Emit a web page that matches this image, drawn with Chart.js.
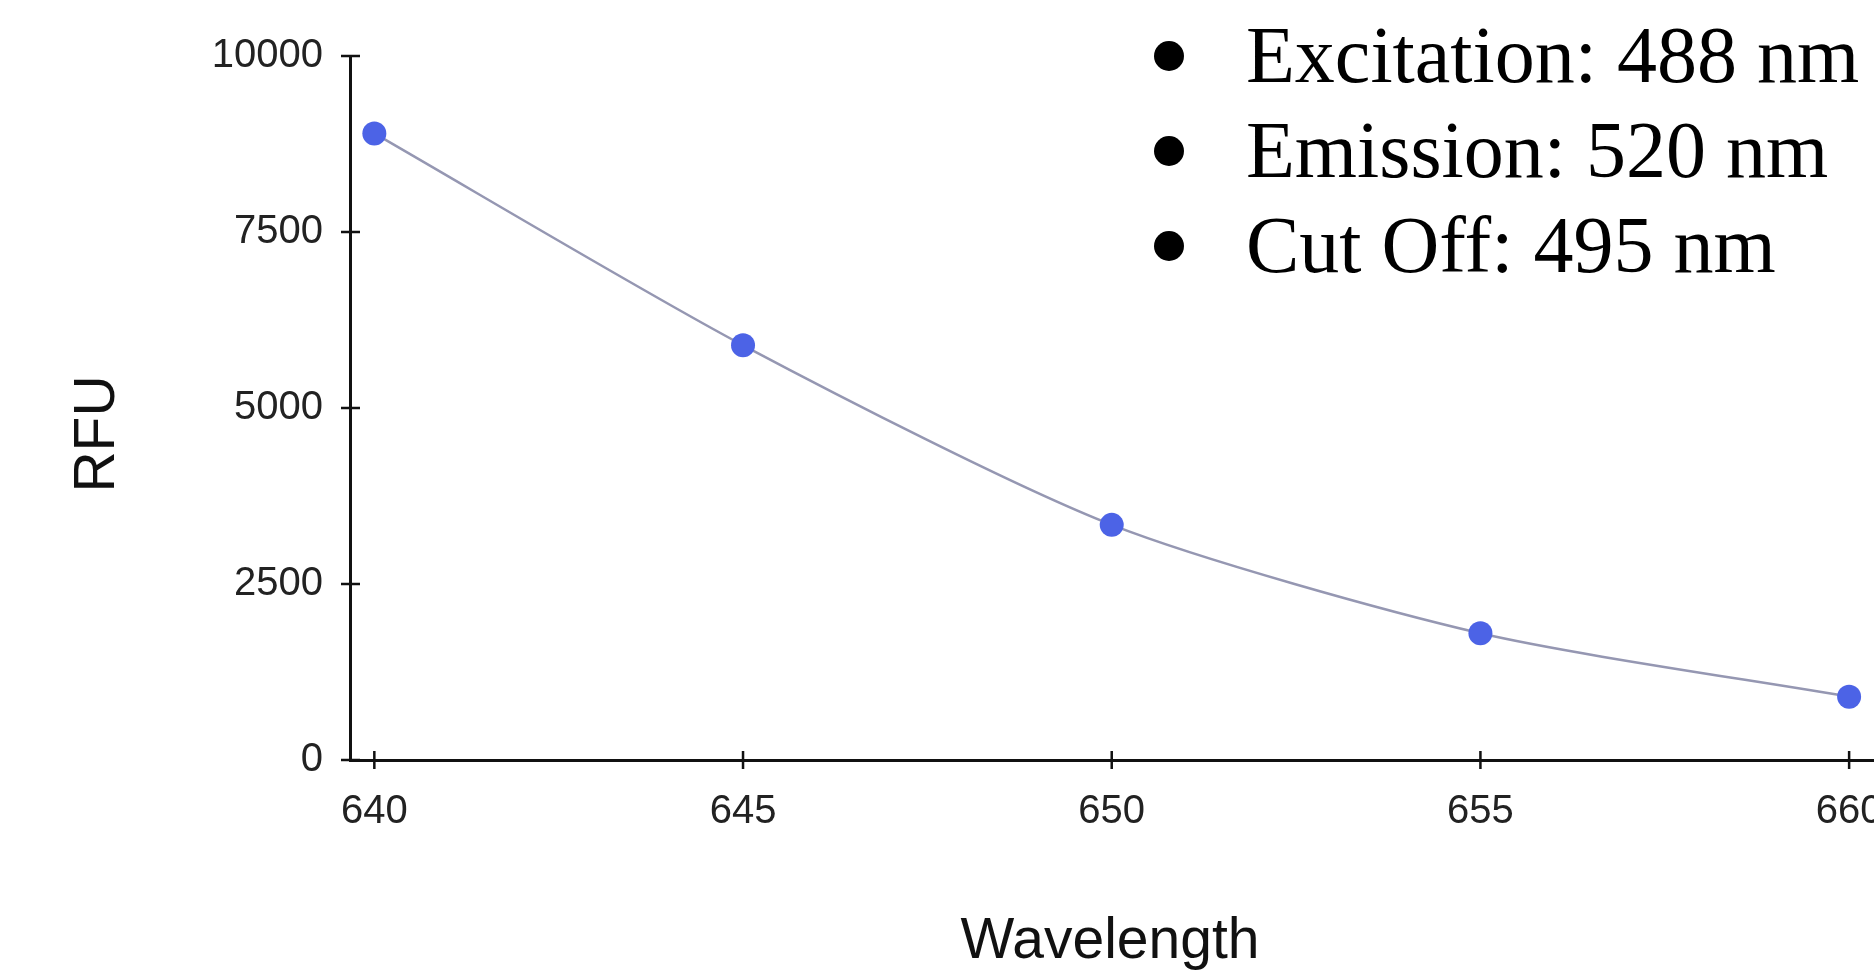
<!DOCTYPE html>
<html>
<head>
<meta charset="utf-8">
<script src="https://cdn.jsdelivr.net/npm/chart.js@4.4.1/dist/chart.umd.min.js"></script>
<style>
  html, body { margin: 0; padding: 0; background: #fff; overflow: hidden; }
  #wrap { position: absolute; left: 0; top: 0; width: 1900px; height: 974px; }
  .notes {
    position: absolute; left: 1154px; top: 8px;
    font-family: "Liberation Serif", "Times New Roman", serif;
    font-size: 80px; line-height: 95px; color: #000; white-space: nowrap;
  }
  .notes div { display: flex; align-items: center; height: 95px; }
  .notes span.dot {
    display: inline-block; width: 30px; height: 30px; border-radius: 50%;
    background: #000; margin-right: 62px; margin-top: 0px;
  }
</style>
</head>
<body>
<div id="wrap"><canvas id="chart" width="1900" height="974"></canvas></div>
<div class="notes" id="notes"></div>
<script>
// data
const wavelengths = [640, 645, 650, 655, 660];
const rfu = [8900, 5890, 3340, 1800, 900];
const xTickValues = [640, 645, 650, 655, 660];
const yTickValues = [0, 2500, 5000, 7500, 10000];
const xTitle = 'Wavelength';
const yTitle = 'RFU';
const notes = ['Excitation: 488 nm', 'Emission: 520 nm', 'Cut Off: 495 nm'];

const notesEl = document.getElementById('notes');
notes.forEach(t => {
    const row = document.createElement('div');
    const dot = document.createElement('span');
    dot.className = 'dot';
    row.appendChild(dot);
    row.appendChild(document.createTextNode(t));
    notesEl.appendChild(row);
});

const sans = 'Liberation Sans, Arial, sans-serif';

// tick marks crossing the axis lines, plus the two axis titles
const axisDecor = {
    id: 'axisDecor',
    afterDraw(chart) {
        const {ctx, scales: {x, y}} = chart;
        ctx.save();
        ctx.strokeStyle = '#111';
        ctx.lineWidth = 2.5;
        ctx.beginPath();
        x.ticks.forEach(t => {
            const px = x.getPixelForValue(t.value);
            ctx.moveTo(px, y.bottom - 9);
            ctx.lineTo(px, y.bottom + 9);
        });
        y.ticks.forEach(t => {
            const py = y.getPixelForValue(t.value);
            ctx.moveTo(x.left - 9, py);
            ctx.lineTo(x.left + 10, py);
        });
        ctx.stroke();

        ctx.fillStyle = '#111';
        ctx.font = '57px ' + sans;
        ctx.textAlign = 'center';
        ctx.textBaseline = 'middle';
        ctx.fillText(xTitle, 1110, 942);
        ctx.translate(98, 434);
        ctx.rotate(-Math.PI / 2);
        ctx.fillText(yTitle, 0, 0);
        ctx.restore();
    }
};

const tickFont = { family: sans, size: 40 };

new Chart(document.getElementById('chart'), {
    type: 'line',
    data: {
        datasets: [{
            data: wavelengths.map((w, i) => ({ x: w, y: rfu[i] })),
            borderColor: '#9597b2',
            borderWidth: 2.5,
            tension: 0.25,
            pointRadius: 12,
            pointBackgroundColor: '#4c63e6',
            pointBorderWidth: 0,
            clip: false
        }]
    },
    options: {
        responsive: false,
        animation: false,
        layout: { autoPadding: false, padding: { top: 56, left: 0, right: 0, bottom: 0 } },
        plugins: {
            legend: { display: false },
            tooltip: { enabled: false }
        },
        scales: {
            x: {
                type: 'linear',
                min: 639.67,
                max: 660.69,
                afterBuildTicks: scale => { scale.ticks = xTickValues.map(v => ({ value: v })); },
                afterFit: scale => {
                    scale.height = 214;
                    scale.paddingLeft = 0;
                    scale.paddingRight = 0;
                },
                grid: { display: false, drawTicks: false },
                border: { display: true, color: '#111', width: 3 },
                ticks: { color: '#222', font: tickFont, padding: 28, maxRotation: 0, callback: v => String(v) }
            },
            y: {
                min: 0,
                max: 10000,
                afterBuildTicks: scale => { scale.ticks = yTickValues.map(v => ({ value: v })); },
                afterFit: scale => { scale.width = 350; },
                grid: { display: false, drawTicks: false },
                border: { display: true, color: '#111', width: 3 },
                ticks: { color: '#222', font: tickFont, padding: 27, callback: v => String(v) }
            }
        }
    },
    plugins: [axisDecor]
});
</script>
</body>
</html>
